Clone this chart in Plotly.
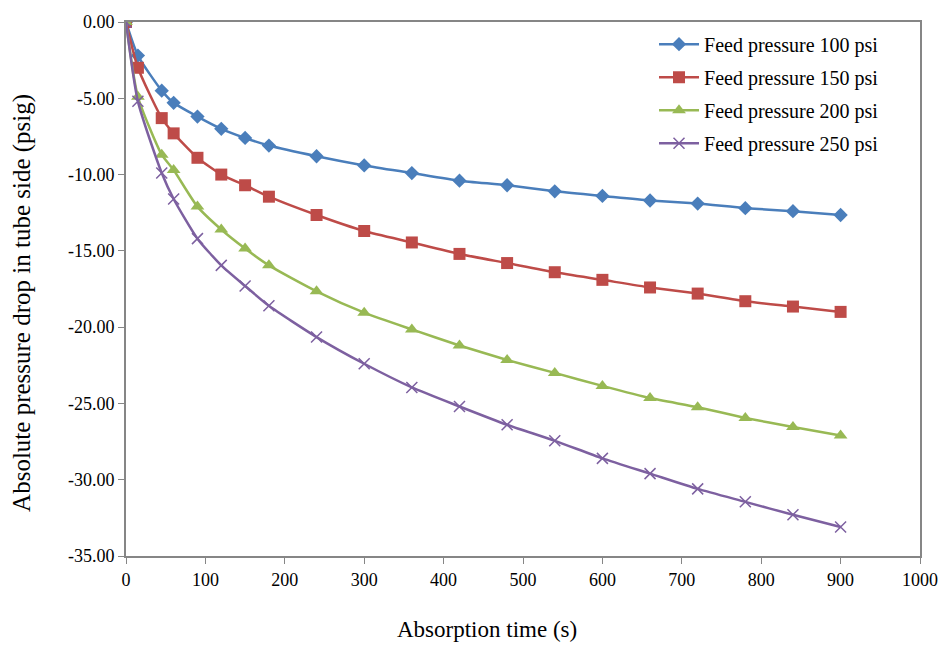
import plotly.graph_objects as go

time_s = [0, 15, 45, 60, 90, 120, 150, 180, 240, 300, 360, 420, 480, 540, 600, 660, 720, 780, 840, 900]
p100 = [0, -2.2, -4.5, -5.3, -6.2, -7.0, -7.6, -8.1, -8.8, -9.4, -9.9, -10.4, -10.7, -11.1, -11.4, -11.7, -11.9, -12.2, -12.4, -12.65]
p150 = [0, -3.0, -6.3, -7.3, -8.9, -10.0, -10.7, -11.45, -12.65, -13.7, -14.45, -15.2, -15.8, -16.4, -16.9, -17.4, -17.8, -18.3, -18.65, -19.0]
p200 = [0, -4.9, -8.7, -9.7, -12.1, -13.6, -14.85, -15.95, -17.65, -19.05, -20.15, -21.2, -22.15, -23.0, -23.85, -24.65, -25.25, -25.95, -26.55, -27.1]
p250 = [0, -5.2, -9.9, -11.6, -14.2, -15.95, -17.3, -18.6, -20.65, -22.4, -23.95, -25.2, -26.4, -27.45, -28.6, -29.6, -30.6, -31.45, -32.3, -33.1]

series_names = ["Feed pressure 100 psi", "Feed pressure 150 psi", "Feed pressure 200 psi", "Feed pressure 250 psi"]
x_ticks = [0, 100, 200, 300, 400, 500, 600, 700, 800, 900, 1000]
y_ticks = [0, -5, -10, -15, -20, -25, -30, -35]
y_tick_labels = ["0.00", "-5.00", "-10.00", "-15.00", "-20.00", "-25.00", "-30.00", "-35.00"]
x_title = "Absorption time (s)"
y_title = "Absolute pressure drop in tube side (psig)"

colors = ["#4A7EBB", "#BE4B48", "#98B954", "#7D60A0"]
symbols = ["diamond", "square", "triangle-up", "x-thin"]
sizes = [11, 12, 12, 11]

fig = go.Figure()
for i, ys in enumerate([p100, p150, p200, p250]):
    mk = dict(symbol=symbols[i], size=sizes[i], color=colors[i])
    if symbols[i] == "x-thin":
        mk["line"] = dict(color=colors[i], width=1.5)
    fig.add_trace(go.Scatter(
        x=time_s, y=ys, mode="lines+markers", name=series_names[i],
        legendgroup=f"g{i}",
        line=dict(color=colors[i], width=2.5, shape="spline", smoothing=0.6),
        marker=mk,
    ))

serif = "'Liberation Serif', 'Times New Roman', 'DejaVu Serif', serif"
axis_font = dict(family=serif, size=18, color="black")
fig.update_layout(
    width=950, height=646,
    margin=dict(l=126, r=26, t=17, b=90),
    plot_bgcolor="white", paper_bgcolor="white",
    font=dict(family=serif, size=18, color="black"),
    showlegend=True,
    legend=dict(x=0.665, y=0.995, xanchor="left", yanchor="top",
                font=dict(family=serif, size=20, color="black"),
                tracegroupgap=4, bgcolor="rgba(0,0,0,0)", itemwidth=40),
    xaxis=dict(range=[0, 1000], tickvals=x_ticks, showgrid=False, zeroline=False,
               showline=True, linecolor="#868686", linewidth=2, mirror=True,
               ticks="outside", ticklen=6, tickcolor="#868686", tickwidth=1,
               tickfont=axis_font),
    yaxis=dict(range=[-35, 0], tickvals=y_ticks, ticktext=y_tick_labels, showgrid=False, zeroline=False,
               showline=True, linecolor="#868686", linewidth=2, mirror=True,
               ticks="outside", ticklen=6, tickcolor="#868686", tickwidth=1,
               tickfont=axis_font),
)
fig.add_annotation(text=x_title, xref="paper", yref="paper", x=(489 - 126) / 798, y=-(630 - 556) / 539,
                   xanchor="center", yanchor="middle", showarrow=False,
                   font=dict(family=serif, size=23, color="black"))
fig.add_annotation(text=y_title, xref="paper", yref="paper", x=-(126 - 22) / 798, y=1 - (301 - 17) / 539,
                   xanchor="center", yanchor="middle", textangle=-90, showarrow=False,
                   font=dict(family=serif, size=25, color="black"))
fig.write_html("out.html")
